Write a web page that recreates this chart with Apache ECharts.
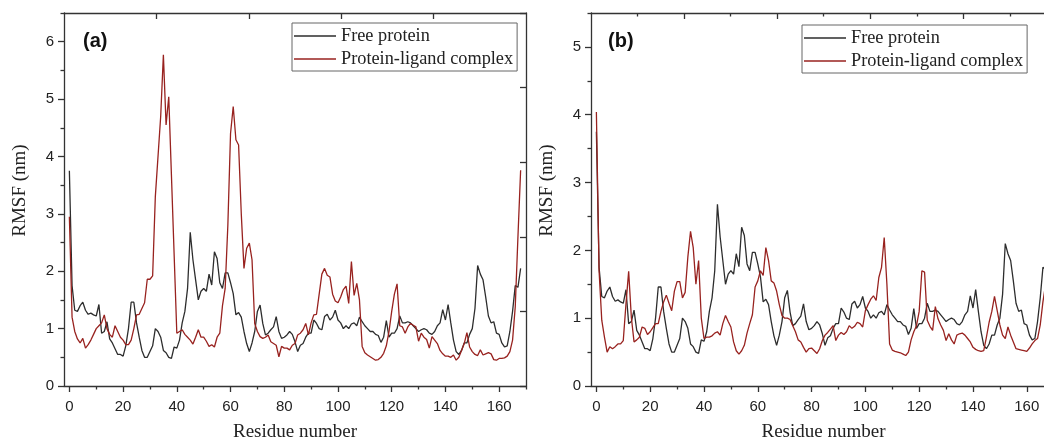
<!DOCTYPE html>
<html>
<head>
<meta charset="utf-8">
<script src="https://cdn.jsdelivr.net/npm/echarts@6/dist/echarts.min.js"></script>
<style>
html,body{margin:0;padding:0;background:#fff;}
#chart{width:1044px;height:441px;}
</style>
</head>
<body>
<div id="chart"></div>
<script>
// ---- data (RMSF in nm, residues 0..168) ----
const freeProtein = [3.75,1.75,1.32,1.30,1.40,1.46,1.32,1.25,1.27,1.24,
 1.22,1.42,0.92,0.95,1.12,0.82,0.75,0.65,0.55,0.55,
 0.52,0.70,1.00,1.46,1.46,1.10,0.85,0.62,0.50,0.50,
 0.60,0.70,1.00,0.95,0.85,0.62,0.58,0.50,0.48,0.68,
 0.66,0.80,1.10,1.30,1.70,2.68,2.20,1.85,1.50,1.65,
 1.70,1.65,1.95,1.76,2.34,2.22,1.80,1.70,1.97,1.97,
 1.80,1.61,1.24,1.28,1.20,0.95,0.74,0.60,0.75,0.95,
 1.30,1.41,1.09,0.89,0.92,0.98,1.03,1.21,0.95,0.83,
 0.85,0.89,0.95,0.90,0.77,0.60,0.71,0.74,0.85,0.92,
 0.92,1.15,1.09,1.00,0.98,1.21,1.25,1.15,1.20,1.32,
 1.15,1.10,1.00,1.05,1.00,1.08,1.10,1.05,1.20,1.12,
 1.05,1.00,0.95,0.95,0.90,0.88,0.76,0.85,1.14,0.85,
 0.92,0.92,1.00,1.22,1.10,1.10,1.12,1.10,1.05,1.00,
 0.95,0.98,1.00,0.98,0.92,0.90,0.95,1.05,1.10,1.33,
 1.15,1.42,1.10,0.80,0.60,0.55,0.62,0.75,0.75,0.90,
 1.00,1.35,2.10,1.95,1.85,1.55,1.22,1.10,1.12,0.92,
 0.90,0.75,0.68,0.70,0.95,1.30,1.75,1.72,2.05];

const complexA = [2.95,1.20,0.95,0.82,0.75,0.83,0.66,0.72,0.80,0.90,
 1.00,1.05,1.10,1.24,1.00,0.90,0.85,1.05,0.95,0.85,
 0.80,0.72,0.72,0.80,1.00,1.24,1.25,1.35,1.45,1.86,
 1.86,1.92,3.30,4.00,4.70,5.77,4.55,5.04,3.67,2.29,
 0.92,0.95,0.98,0.90,0.85,0.80,0.73,0.85,0.98,0.85,
 0.85,0.78,0.69,0.72,0.68,0.85,0.92,1.40,1.70,2.80,
 4.40,4.87,4.29,4.20,3.00,2.05,2.40,2.49,2.20,1.09,
 0.95,0.86,0.83,0.85,0.89,0.77,0.74,0.71,0.51,0.69,
 0.66,0.66,0.63,0.71,0.74,0.89,0.92,0.98,1.09,0.89,
 1.10,1.24,1.25,1.60,1.95,2.05,1.93,1.90,1.60,1.48,
 1.45,1.55,1.68,1.74,1.44,2.17,1.58,1.79,1.50,0.69,
 0.58,0.54,0.51,0.48,0.45,0.46,0.50,0.57,0.70,0.95,
 1.30,1.60,1.78,1.05,1.03,0.92,1.03,1.09,1.06,1.03,
 0.78,0.92,0.85,0.81,0.66,0.86,0.80,0.74,0.62,0.56,
 0.52,0.52,0.50,0.54,0.45,0.50,0.62,0.74,0.93,0.68,
 0.60,0.55,0.53,0.63,0.54,0.56,0.58,0.56,0.46,0.45,
 0.48,0.48,0.49,0.52,0.60,0.80,1.38,2.60,3.76];

const complexB = [4.04,1.70,0.97,0.72,0.50,0.58,0.55,0.58,0.62,0.62,
 0.67,1.21,1.69,1.01,0.65,0.68,0.72,0.87,0.85,0.76,
 0.80,0.86,0.92,0.92,1.10,1.24,1.34,1.22,1.11,1.40,
 1.54,1.54,1.30,1.38,1.90,2.28,2.04,1.50,1.85,1.00,
 0.70,0.72,0.72,0.74,0.78,0.80,0.75,0.92,1.04,0.95,
 0.87,0.65,0.52,0.47,0.52,0.60,0.78,0.92,1.05,1.46,
 1.55,1.70,1.63,2.04,1.85,1.55,1.52,1.40,1.20,1.04,
 1.00,1.00,0.98,0.89,0.80,0.68,0.65,0.57,0.50,0.55,
 0.56,0.52,0.48,0.55,0.67,0.75,0.79,0.84,0.89,0.67,
 0.75,0.79,0.76,0.80,0.89,0.85,0.88,0.94,0.92,0.87,
 1.11,1.20,1.28,1.33,1.26,1.60,1.75,2.19,1.50,0.62,
 0.53,0.51,0.50,0.49,0.47,0.45,0.50,0.68,0.80,0.89,
 1.10,1.70,1.68,0.97,0.88,0.82,1.17,0.99,0.90,0.82,
 0.67,0.77,0.68,0.62,0.75,0.77,0.78,0.75,0.70,0.65,
 0.57,0.54,0.52,0.51,0.52,0.72,0.94,1.10,1.32,1.11,
 0.90,0.75,0.70,0.87,0.75,0.65,0.55,0.54,0.53,0.52,
 0.51,0.56,0.62,0.67,0.70,0.90,1.24,1.50,1.80];

const seriesNames = ['Free protein', 'Protein-ligand complex'];
const xTickLabels = [0, 20, 40, 60, 80, 100, 120, 140, 160];
const xMinorTicksA = [10, 30, 50, 70, 90, 110, 130, 150, 170];
const xMinorTicksB = [10, 30, 50, 70, 90, 110, 130, 150];
const yTickLabelsA = [0, 1, 2, 3, 4, 5, 6];
const yMinorTicksA = [0.5, 1.5, 2.5, 3.5, 4.5, 5.5, 6.5];
const yTickLabelsB = [0, 1, 2, 3, 4, 5];
const yMinorTicksB = [0.5, 1.5, 2.5, 3.5, 4.5, 5.5];
const topTicksB = [1, 2, 3, 4];
const topMinorTicksB = [0.5, 1.5, 2.5, 3.5, 4.5];

const residues = freeProtein.map((_, i) => i);
const pairs = vals => vals.map((v, i) => [residues[i], v]);

// ---- styles ----
const AX = '#333333';
const LBL = {fontFamily: 'Liberation Sans', fontSize: 15, color: '#222'};
const NAME = {fontFamily: 'Liberation Serif', fontSize: 19, color: '#222'};
const BLACK = '#2d2d2d';
const RED = '#98221f';
// panel (b) is cut by the right page edge: its visible x range ends before 170
const X_MAX_B = 166.4;
const TOP_MAX_B = 4.866;

function axLine(show){ return {show: show, onZero: false, lineStyle: {color: AX, width: 1.3}}; }

function xMain(g, max, namePad){
  return {type:'value', gridIndex:g, position:'bottom', min:-2, max:max,
    axisLine: axLine(true),
    axisTick: {show:true, length:6, customValues:xTickLabels, lineStyle:{color:AX, width:1.3}},
    axisLabel: {show:true, customValues:xTickLabels, margin:13, ...LBL},
    splitLine:{show:false},
    name:'Residue number', nameLocation:'middle', nameGap:37,
    nameTextStyle: {...NAME, padding:[0, 0, 0, namePad]}};
}
function xMinor(g, max, ticks){
  return {type:'value', gridIndex:g, position:'bottom', min:-2, max:max,
    axisLine: axLine(false),
    axisTick: {show:true, length:3.5, customValues:ticks, lineStyle:{color:AX, width:1.3}},
    axisLabel: {show:false}, splitLine:{show:false}};
}
function xTop(g, max, ticks, len){
  return {type:'value', gridIndex:g, position:'top', min:0, max:max,
    axisLine: axLine(true),
    axisTick: {show:true, inside:true, length:len, customValues:ticks, lineStyle:{color:AX, width:1.3}},
    axisLabel: {show:false}, splitLine:{show:false}};
}
function xTopMinor(g, max, ticks){
  return {type:'value', gridIndex:g, position:'top', min:0, max:max,
    axisLine: axLine(false),
    axisTick: {show:true, inside:true, length:3.5, customValues:ticks, lineStyle:{color:AX, width:1.3}},
    axisLabel: {show:false}, splitLine:{show:false}};
}
function yMain(g, max, labels){
  return {type:'value', gridIndex:g, position:'left', min:0, max:max,
    axisLine: axLine(true),
    axisTick: {show:true, length:6, customValues:labels, lineStyle:{color:AX, width:1.3}},
    axisLabel: {show:true, customValues:labels, margin:10, ...LBL},
    splitLine:{show:false},
    name:'RMSF (nm)', nameLocation:'middle', nameGap:34,
    nameTextStyle: {...NAME, padding:[0, 0, 0, 18]}};
}
function yMinor(g, max, ticks){
  return {type:'value', gridIndex:g, position:'left', min:0, max:max,
    axisLine: axLine(false),
    axisTick: {show:true, length:3.5, customValues:ticks, lineStyle:{color:AX, width:1.3}},
    axisLabel: {show:false}, splitLine:{show:false}};
}
function yRight(g){
  return {type:'value', gridIndex:g, position:'right', min:0, max:5, interval:1,
    axisLine: axLine(true),
    axisTick: {show:true, inside:true, length:6, lineStyle:{color:AX, width:1.3}},
    axisLabel: {show:false}, splitLine:{show:false}};
}
function legendAt(left, top){
  return {left:left, top:top, orient:'vertical', icon:'rect', itemWidth:42, itemHeight:1.5, itemGap:5,
    padding:[4, 4, 3, 2], borderColor:'#666', borderWidth:1, backgroundColor:'#fff',
    textStyle:{fontFamily:'Liberation Serif', fontSize:18.3, color:'#222'},
    data: seriesNames, selectedMode:false};
}
function line(name, data, xi, yi, color){
  return {type:'line', name:name, data:pairs(data), xAxisIndex:xi, yAxisIndex:yi,
    symbol:'none', showSymbol:false, animation:false, clip:true,
    lineStyle:{color:color, width:1.3}, itemStyle:{color:color}};
}

const chart = echarts.init(document.getElementById('chart'), null, {renderer:'canvas'});
chart.setOption({
  backgroundColor:'#fff',
  animation:false,
  title:[
    {text:'(a)', left:78, top:26, textStyle:{fontFamily:'Liberation Sans', fontWeight:'bold', fontSize:20, color:'#111'}},
    {text:'(b)', left:603, top:26, textStyle:{fontFamily:'Liberation Sans', fontWeight:'bold', fontSize:20, color:'#111'}}
  ],
  legend:[legendAt(292, 23), legendAt(802, 25)],
  grid:[
    {left:64, top:13, width:462, height:373, outerBoundsMode:'none', containLabel:false},
    {left:591, top:13, width:453, height:373, outerBoundsMode:'none', containLabel:false}
  ],
  xAxis:[xMain(0, 170, 0), xMinor(0, 170, xMinorTicksA), xTop(0, 5, [1, 2, 3, 4], 6),
         xMain(1, X_MAX_B, 12), xMinor(1, X_MAX_B, xMinorTicksB),
         xTop(1, TOP_MAX_B, topTicksB, 6), xTopMinor(1, TOP_MAX_B, topMinorTicksB)],
  yAxis:[yMain(0, 6.5, yTickLabelsA), yMinor(0, 6.5, yMinorTicksA), yRight(0),
         yMain(1, 5.5, yTickLabelsB), yMinor(1, 5.5, yMinorTicksB)],
  series:[
    line(seriesNames[0], freeProtein, 0, 0, BLACK),
    line(seriesNames[1], complexA, 0, 0, RED),
    line(seriesNames[0], freeProtein, 3, 3, BLACK),
    line(seriesNames[1], complexB, 3, 3, RED)
  ]
});
</script>
</body>
</html>
